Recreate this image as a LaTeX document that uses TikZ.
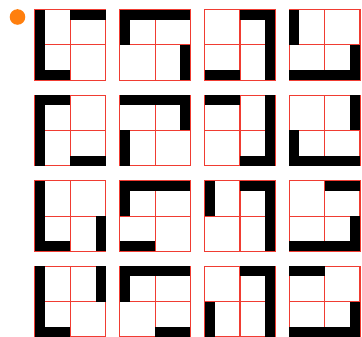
\documentclass[tikz,border=0pt]{standalone}
\definecolor{dotorange}{RGB}{255,127,14}
\definecolor{gridred}{RGB}{240,60,50}
\tikzset{
  gridline/.style={draw=gridred, line width=1.2pt},
  barfill/.style={fill=black}
}
\newcommand\barTL{\fill[barfill] (0,0) rectangle (35.3,10);}
\newcommand\barTR{\fill[barfill] (35.3,0) rectangle (70.6,10);}
\newcommand\barRT{\fill[barfill] (60.6,0) rectangle (70.6,35.3);}
\newcommand\barRB{\fill[barfill] (60.6,35.3) rectangle (70.6,70.6);}
\newcommand\barBR{\fill[barfill] (35.3,60.6) rectangle (70.6,70.6);}
\newcommand\barBL{\fill[barfill] (0,60.6) rectangle (35.3,70.6);}
\newcommand\barLB{\fill[barfill] (0,35.3) rectangle (10,70.6);}
\newcommand\barLT{\fill[barfill] (0,0) rectangle (10,35.3);}
\newcommand\tile[3]{%
  \begin{scope}[shift={(35+84.8*#1,9.6+85.6*#2)}]
    \draw[gridline] (0,0) rectangle (70.6,70.6);
    \draw[gridline] (35.3,0) -- (35.3,70.6);
    \draw[gridline] (0,35.3) -- (70.6,35.3);
    \foreach \e in {#3} {\csname bar\e\endcsname}
  \end{scope}}
\begin{document}
\begin{tikzpicture}[x=1pt,y=-1pt]
\useasboundingbox (0,0) rectangle (362,337);
\fill[dotorange] (17.5,17) circle (7.8);
\tile{0}{0}{LT,LB,TR,BL}
\tile{1}{0}{TL,TR,LT,RB}
\tile{2}{0}{TR,RT,RB,BL}
\tile{3}{0}{LT,RB,BL,BR}
\tile{0}{1}{TL,LT,LB,BR}
\tile{1}{1}{TL,TR,LB,RT}
\tile{2}{1}{TL,RT,RB,BR}
\tile{3}{1}{RT,LB,BL,BR}
\tile{0}{2}{LT,LB,BL,RB}
\tile{1}{2}{TL,TR,LT,BL}
\tile{2}{2}{LT,TR,RT,RB}
\tile{3}{2}{TR,RB,BL,BR}
\tile{0}{3}{LT,LB,BL,RT}
\tile{1}{3}{TL,TR,LT,BR}
\tile{2}{3}{TR,RT,RB,LB}
\tile{3}{3}{TL,RB,BL,BR}
\end{tikzpicture}
\end{document}
